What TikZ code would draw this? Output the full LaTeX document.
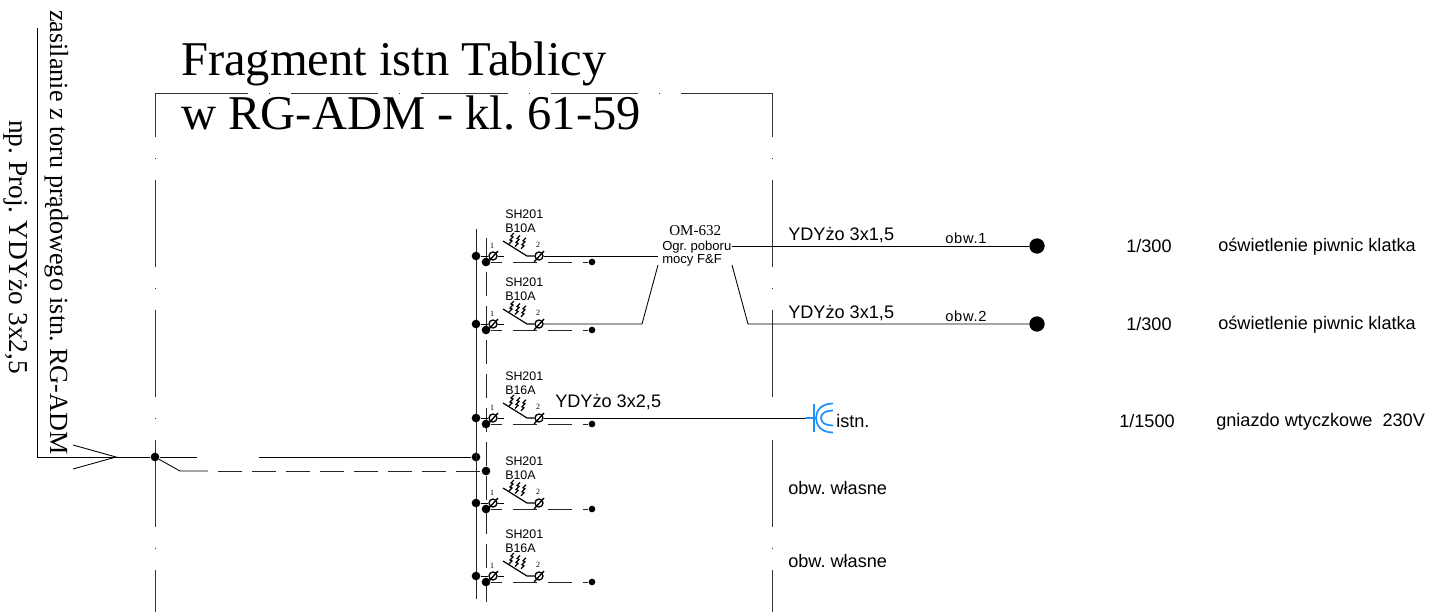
\documentclass[tikz,border=0pt]{standalone}
\usepackage{fontspec}
\setmainfont{Liberation Serif}
\setsansfont{Liberation Sans}
\frenchspacing
\tikzset{
	kropka/.style={circle,fill=black,inner sep=0pt,minimum size=6.5pt},
	kropka mala/.style={circle,fill=black,inner sep=0pt,minimum size=5pt},
	kropka duza/.style={circle,fill=black,inner sep=0pt,minimum size=11.5pt},
	zacisk/.style={circle,draw,line width=1pt,inner sep=0pt,minimum size=6pt},
	linia/.style={line width=.65pt},
	ramka/.style={line width=.6pt,black!80,dash pattern=on 65.25pt off 15.75pt on .75pt off 15.75pt},
	kreski/.style={line width=.65pt,black!85,dash pattern=on 18pt off 7.5pt},
	gniazdo/.style={line width=1.3pt,color={rgb,255:red,30;green,144;blue,255}},
	tytul/.style={anchor=base west,inner sep=0pt,font=\fontsize{36.4}{40}\selectfont},
	pion/.style={anchor=base west,inner sep=0pt,rotate=-90,font=\fontsize{19.6}{22}\selectfont},
	opis/.style={anchor=base west,inner sep=0pt,font=\sffamily\fontsize{13.6}{15}\selectfont},
	obwod/.style={anchor=base west,inner sep=0pt,font=\sffamily\fontsize{11}{13}\selectfont\addfontfeature{LetterSpace=5}},
	typ/.style={anchor=base west,inner sep=0pt,font=\sffamily\fontsize{9.3}{11}\selectfont},
	zn/.style={inner sep=0pt,font=\fontsize{6}{7}\selectfont}
}
\begin{document}
\begin{tikzpicture}[x=.75pt,y=-.75pt]
	\useasboundingbox (0,0) rectangle (1441,612);
	\draw[ramka,dash phase=32.25pt] (155,93) -- (155,612);
	\draw[ramka,dash phase=32.25pt] (772,93) -- (772,612);
	\draw[ramka] (161,93) -- (772,93);
	\draw[line width=.6pt,black!80] (155,93) -- (161,93);
	\draw[line width=.6pt,black!80] (768,93) -- (772,93);
	\node[tytul] (tyt1) at (181,75) {Fragment istn Tablicy};
	\node[tytul] (tyt2) at (181,129) {w RG-ADM - kl. 61-59};
	\node[pion] (zas) at (50,10) {zasilanie z toru prądowego istn. RG-ADM};
	\node[pion,font=\fontsize{20.5}{22}\selectfont] (proj) at (9,120) {np. Proj. YDYżo 3x2,5};
	\coordinate (we0) at (37,28);
	\coordinate (we1) at (37,457);
	\coordinate (ost) at (116,457);
	\coordinate (ost1) at (73,445);
	\coordinate (ost2) at (73,469);
	\coordinate (kon1) at (197,457);
	\coordinate (kon2) at (259,457);
	\coordinate (kos) at (180,471);
	\coordinate (kos1) at (208,471);
	\coordinate (kos2) at (218,471);
	\node[kropka] (wez) at (155,457) {};
	\node[kropka] (sz) at (476,457) {};
	\node[kropka] (kr) at (486,471) {};
	\draw[linia] (we0) -- (we1) -- (ost) -- (wez) -- (kon1);
	\draw[linia] (ost1) -- (ost) -- (ost2);
	\draw[linia] (kon2) -- (sz);
	\draw[linia] (wez) -- (kos) -- (kos1);
	\draw[kreski] (kos2) -- (kr);
	\draw[line width=.75pt,black!85] (476,229) -- (476,599);
	\draw[kreski] (486,238) -- (486,607);
	\foreach \wy/\prad [count=\n] in {256/B10A,324/B10A,418/B16A,503/B10A,576/B16A}{
		\begin{scope}[shift={(0,\wy)}]
			\node[typ] (sh\n) at (505,-38) {SH201};
			\node[typ] (pr\n) at (505,-24) {\prad};
			\node[kropka] (l\n) at (476,0) {};
			\node[kropka] (p\n) at (486,6) {};
			\node[kropka mala] (k\n) at (592,6) {};
			\node[zacisk] (a\n) at (493,0) {};
			\node[zacisk] (b\n) at (539,0) {};
			\node[zn] at (492,-10) {1};
			\node[zn] at (538,-11) {2};
			\draw[linia] (l\n) -- (a\n) -- (504,0);
			\draw[line width=.9pt] (503,-15) -- (527,0) -- (b\n);
			\draw[line width=1pt] (488,6) -- (498,-5);
			\draw[line width=1pt] (534,6) -- (544,-5);
			\draw[linia,black!85,dash pattern=on 18pt off 8.25pt,dash phase=9.75pt] (p\n) -- (k\n);
			\foreach \dx in {0,6,12}
				\draw[line width=.9pt] (509+\dx,-12+.4*\dx) -- ++(3,-3) -- ++(-2,-1) -- ++(3,-3) -- ++(-2,-1) -- ++(3,-3);
		\end{scope}
	}
	\node[anchor=base west,inner sep=0pt,font=\fontsize{11.3}{13}\selectfont] (om) at (669,235) {OM-632};
	\node[anchor=base west,inner sep=0pt,font=\sffamily\fontsize{9.8}{12}\selectfont] (ogr) at (662,250) {Ogr. poboru};
	\node[anchor=base west,inner sep=0pt,font=\sffamily\fontsize{9.8}{12}\selectfont] (moc) at (662,263) {mocy F\&F};
	\coordinate (om1) at (658,256);
	\coordinate (om2) at (642,324);
	\coordinate (om3) at (658,265);
	\coordinate (om4) at (732,246);
	\coordinate (om5) at (732,265);
	\coordinate (om6) at (748,324);
	\node[kropka duza] (ob1) at (1037,246) {};
	\node[kropka duza] (ob2) at (1037,324) {};
	\draw[linia] (b1) -- (om1);
	\draw[linia] (b2) -- (om2) -- (om3);
	\draw[linia] (om4) -- (ob1);
	\draw[linia] (om5) -- (om6) -- (ob2);
	\coordinate (gn) at (805,418);
	\coordinate (gn1) at (814,418);
	\draw[linia] (b3) -- (gn);
	\draw[gniazdo,line width=.8pt] (gn) -- (gn1);
	\draw[gniazdo] (814,404) -- (814,432);
	\draw[gniazdo] (833,403.5) .. controls (821,403.5) and (816,411) .. (816,418) .. controls (816,425) and (821,432.5) .. (833,432.5);
	\draw[gniazdo] (833,410.5) .. controls (826,410.5) and (821,413) .. (821,418) .. controls (821,423) and (826,425.5) .. (833,425.5);
	\node[opis] (t1) at (788,240) {YDYżo 3x1,5};
	\node[opis] (t2) at (788,318) {YDYżo 3x1,5};
	\node[opis] (t3) at (555,407) {YDYżo 3x2,5};
	\node[obwod] (o1) at (945,243) {obw.1};
	\node[obwod] (o2) at (945,321) {obw.2};
	\node[opis] (ist) at (836,427) {istn.};
	\node[opis] (w1) at (788,494) {obw. własne};
	\node[opis] (w2) at (788,567) {obw. własne};
	\node[opis] (m1) at (1126,252) {1/300};
	\node[opis] (m2) at (1126,330) {1/300};
	\node[opis] (m3) at (1119,427) {1/1500};
	\node[opis] (n1) at (1218,251) {oświetlenie piwnic klatka};
	\node[opis] (n2) at (1218,329) {oświetlenie piwnic klatka};
	\node[opis] (n3) at (1216,426) {gniazdo wtyczkowe\ \ 230V};
\end{tikzpicture}
\end{document}
